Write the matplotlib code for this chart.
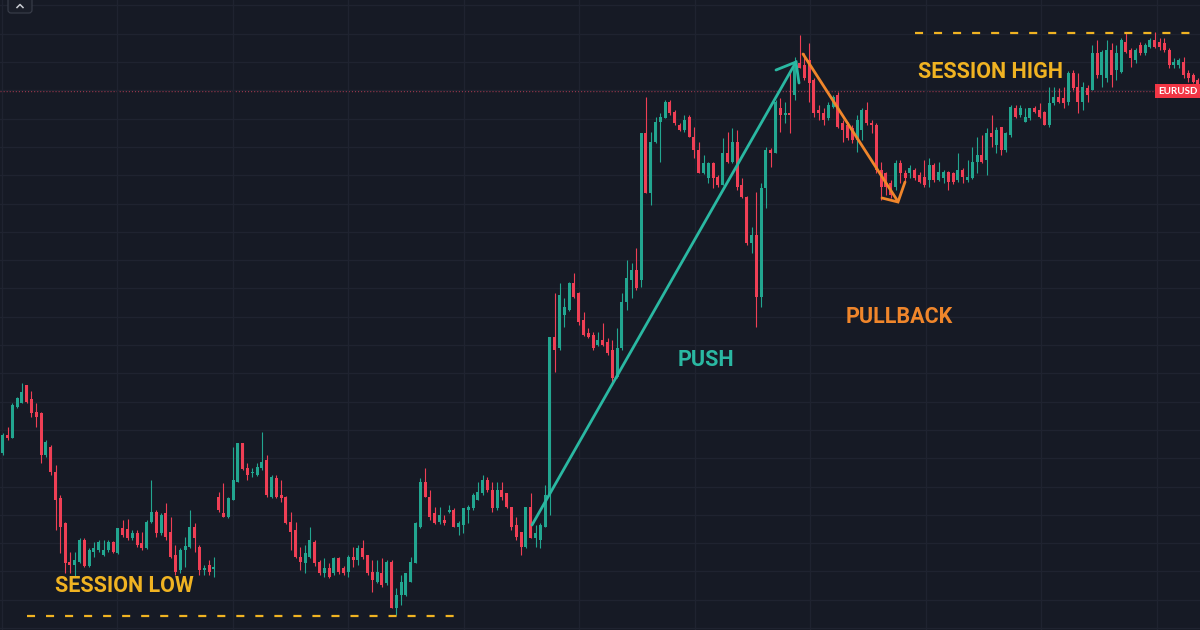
import numpy as np
import matplotlib
matplotlib.use("Agg")
import matplotlib.pyplot as plt
from matplotlib.patches import Rectangle, FancyBboxPatch

# ---- Candle data (EURUSD) ----
# Levels are in chart units measured downward from the top edge
# (no price scale is visible, so the axis is inverted).
opens = [453, 435, 438, 407, 403, 385, 399, 412, 413, 455,
         447, 472, 498, 523, 562, 565, 562, 540, 566, 552,
         550, 555, 550, 542, 553, 528, 529, 538, 533, 543,
         548, 522, 512, 533, 513, 532, 555, 570, 550, 547,
         527, 547, 570, 565, 569, 497, 513, 517, 500, 482,
         443, 468, 473, 475, 468, 460, 497, 478, 495, 497,
         522, 530, 557, 563, 557, 542, 562, 573, 568, 573,
         558, 568, 572, 557, 560, 548, 555, 572, 582, 573,
         583, 562, 608, 595, 595, 582, 563, 527, 482, 497,
         513, 522, 520, 512, 510, 527, 525, 510, 508, 500,
         493, 480, 490, 508, 490, 493, 507, 525, 532, 547,
         507, 538, 540, 527, 495, 337, 348, 315, 310, 283,
         293, 320, 333, 335, 345, 340, 342, 350, 377, 348,
         302, 280, 270, 280, 133, 193, 142, 122, 118, 102,
         112, 125, 130, 117, 137, 150, 173, 178, 163, 177,
         185, 153, 162, 142, 185, 197, 243, 235, 297, 188,
         150, 153, 108, 115, 113, 95, 63, 65, 60, 80,
         110, 113, 118, 107, 95, 123, 125, 128, 140, 130,
         110, 123, 125, 170, 173, 183, 187, 163, 173, 173,
         170, 175, 177, 180, 165, 180, 178, 172, 173, 180,
         170, 180, 178, 162, 155, 160, 133, 145, 127, 150,
         135, 108, 115, 122, 118, 108, 110, 112, 125, 103,
         97, 98, 102, 73, 87, 102, 88, 90, 53, 75,
         78, 50, 70, 72, 42, 50, 60, 45, 53, 47,
         40, 42, 43, 50, 65, 65, 62, 73, 75, 80]
highs = [433, 427, 403, 397, 383, 385, 391, 403, 412, 440,
         445, 465, 495, 522, 552, 552, 538, 538, 548, 542,
         540, 540, 540, 541, 528, 520, 519, 530, 530, 532,
         520, 480, 510, 513, 503, 517, 545, 548, 537, 510,
         523, 545, 565, 560, 557, 492, 483, 497, 447, 443,
         443, 463, 468, 463, 432, 455, 475, 475, 480, 496,
         512, 522, 547, 545, 527, 540, 560, 558, 563, 557,
         557, 566, 555, 547, 545, 540, 555, 560, 560, 558,
         560, 560, 588, 575, 573, 557, 522, 478, 468, 490,
         507, 507, 515, 505, 508, 521, 508, 505, 493, 482,
         475, 477, 482, 482, 482, 493, 507, 517, 532, 507,
         493, 525, 523, 485, 337, 293, 283, 298, 282, 273,
         292, 312, 328, 332, 332, 323, 338, 340, 328, 293,
         260, 263, 248, 133, 97, 132, 117, 113, 100, 100,
         110, 123, 115, 115, 127, 142, 155, 162, 162, 175,
         138, 132, 128, 130, 178, 196, 227, 192, 183, 147,
         148, 100, 98, 102, 70, 57, 35, 53, 43, 78,
         105, 108, 102, 95, 92, 120, 122, 125, 115, 108,
         102, 120, 123, 162, 172, 180, 160, 160, 170, 165,
         168, 172, 160, 158, 163, 162, 170, 171, 172, 153,
         168, 160, 147, 137, 135, 128, 115, 127, 127, 132,
         105, 105, 105, 108, 108, 106, 103, 111, 87, 87,
         88, 87, 71, 70, 73, 82, 85, 45, 40, 50,
         40, 43, 45, 38, 33, 48, 48, 42, 43, 38,
         32, 38, 38, 48, 58, 58, 57, 70, 73, 78]
lows = [455, 440, 438, 408, 403, 403, 417, 427, 463, 457,
        475, 530, 553, 573, 573, 577, 563, 567, 567, 557,
        552, 556, 552, 553, 554, 537, 540, 540, 547, 550,
        549, 523, 537, 535, 540, 558, 575, 573, 567, 548,
        552, 575, 575, 575, 577, 512, 517, 518, 500, 482,
        470, 480, 477, 476, 470, 497, 498, 498, 502, 524,
        550, 558, 570, 573, 558, 566, 575, 577, 578, 575,
        574, 575, 577, 567, 565, 559, 575, 592, 583, 587,
        585, 608, 615, 605, 596, 582, 563, 528, 497, 520,
        524, 524, 525, 513, 527, 535, 533, 523, 510, 500,
        495, 492, 512, 510, 500, 508, 530, 540, 555, 548,
        538, 547, 548, 527, 515, 372, 350, 327, 311, 298,
        325, 336, 338, 350, 346, 346, 355, 385, 378, 350,
        310, 298, 290, 287, 193, 205, 143, 162, 118, 115,
        125, 131, 132, 137, 158, 173, 174, 183, 188, 187,
        185, 163, 163, 190, 198, 245, 253, 327, 307, 208,
        167, 153, 132, 123, 133, 100, 68, 80, 102, 117,
        120, 125, 120, 108, 128, 142, 140, 143, 152, 140,
        125, 133, 173, 200, 195, 198, 190, 183, 182, 178,
        180, 183, 187, 187, 182, 181, 183, 190, 184, 182,
        183, 182, 179, 173, 163, 175, 147, 153, 155, 152,
        137, 118, 117, 122, 120, 113, 118, 125, 127, 105,
        103, 108, 105, 90, 113, 110, 102, 90, 78, 87,
        82, 87, 80, 73, 53, 67, 63, 55, 55, 48,
        48, 50, 52, 68, 68, 68, 78, 82, 83, 86]
closes = [435, 438, 405, 398, 392, 402, 413, 417, 455, 442,
          472, 500, 527, 563, 565, 560, 540, 566, 550, 548,
          542, 550, 542, 552, 528, 535, 538, 533, 545, 548,
          522, 512, 533, 515, 537, 557, 572, 550, 546, 527,
          538, 570, 568, 572, 567, 510, 517, 498, 480, 443,
          469, 475, 472, 467, 462, 495, 477, 497, 498, 523,
          532, 557, 562, 553, 540, 563, 573, 568, 577, 558,
          572, 573, 557, 560, 548, 557, 573, 580, 572, 585,
          562, 608, 595, 582, 573, 562, 523, 482, 497, 517,
          523, 515, 523, 510, 527, 523, 508, 507, 495, 492,
          480, 490, 508, 490, 497, 507, 527, 537, 547, 507,
          538, 533, 525, 495, 337, 350, 295, 307, 283, 297,
          322, 335, 337, 348, 340, 345, 353, 378, 348, 302,
          278, 270, 288, 133, 193, 142, 122, 117, 102, 113,
          123, 130, 120, 137, 150, 173, 163, 163, 178, 185,
          153, 162, 142, 187, 197, 243, 235, 297, 188, 150,
          153, 102, 115, 113, 115, 67, 68, 78, 83, 113,
          113, 120, 105, 97, 127, 130, 138, 140, 120, 110,
          123, 125, 170, 187, 187, 195, 163, 173, 178, 168,
          178, 182, 185, 165, 180, 172, 172, 182, 182, 170,
          177, 177, 162, 155, 162, 133, 137, 130, 150, 133,
          107, 117, 108, 117, 108, 112, 117, 125, 103, 97,
          102, 103, 73, 88, 102, 87, 95, 53, 75, 52,
          50, 75, 53, 40, 52, 58, 50, 53, 45, 40,
          47, 47, 50, 65, 62, 60, 75, 78, 82, 84]

symbol = "EURUSD"
last_price_level = 91
label_session_low = "SESSION LOW"
label_session_high = "SESSION HIGH"
label_push = "PUSH"
label_pullback = "PULLBACK"

# ---- style ----
BG = '#161a25'
GRID = '#1f2330'
UP = '#22a690'
DOWN = '#ef3f55'
GOLD = '#f0b322'
TEAL = '#2ab8a2'
ORANGE = '#f0862b'
plt.rcParams['lines.scale_dashes'] = False

W, H, DPI = 1200, 630, 100
fig = plt.figure(figsize=(W / DPI, H / DPI), dpi=DPI, facecolor=BG)
ax = fig.add_axes([0, 0, 1, 1])
ax.set_facecolor(BG)

n = len(opens)
x = np.arange(n)
step = 4.8                      # pixels per candle
x0 = -2.7 / step
ax.set_xlim(x0, x0 + W / step)
ax.set_ylim(H, 0)

ax.set_xticks(np.arange(-0.15, n + 2, 115.5 / step))
ax.set_yticks(np.arange(5.4, H, 28.3))
ax.grid(True, color=GRID, lw=0.9, zorder=0)
ax.tick_params(length=0, labelbottom=False, labelleft=False)
for s in ax.spines.values():
    s.set_visible(False)

o = np.array(opens, float)
c = np.array(closes, float)
hi = np.array(highs, float)
lo = np.array(lows, float)
up = c <= o
cols = np.where(up, UP, DOWN)
ax.vlines(x, hi, lo, colors=cols, lw=0.8, zorder=2)
body_top = np.minimum(o, c)
body_h = np.maximum(np.abs(o - c), 1.2)
ax.bar(x, body_h, bottom=body_top, width=0.62, color=cols, linewidth=0, zorder=3)

# last price dotted line
ax.axhline(last_price_level, xmin=0, xmax=1155 / W, color='#c8425a', lw=1.0,
           ls=(0, (0.8, 1.4)), alpha=0.8, zorder=1)

# ---- overlay in pixel coordinates for drawings ----
ov = fig.add_axes([0, 0, 1, 1], facecolor='none')
ov.set_xlim(0, W)
ov.set_ylim(H, 0)
ov.axis('off')

# session lines
ov.plot([27, 460], [616, 616], color=GOLD, lw=1.6, dashes=(5.8, 7.9))
ov.plot([915, 1190], [33, 33], color=GOLD, lw=1.6, dashes=(5.8, 7.9))

# push arrow
ov.plot([532, 796], [525, 62], color=TEAL, lw=2.0, solid_capstyle='round')
ov.plot([776, 796, 799], [70, 62, 83], color=TEAL, lw=2.0,
        solid_capstyle='round', solid_joinstyle='miter')
# pullback arrow
ov.plot([803, 897], [54, 200], color=ORANGE, lw=2.0, solid_capstyle='round')
ov.plot([882, 898, 905], [198, 202, 182], color=ORANGE, lw=2.0,
        solid_capstyle='round', solid_joinstyle='miter')

font = dict(family=['Roboto', 'DejaVu Sans'], weight='bold', size=15.5)
ov.text(55, 592, label_session_low, color=GOLD, ha='left', va='baseline', **font)
ov.text(918, 78, label_session_high, color=GOLD, ha='left', va='baseline', **font)
ov.text(678, 366, label_push, color=TEAL, ha='left', va='baseline', **font)
ov.text(846, 323, label_pullback, color=ORANGE, ha='left', va='baseline', **font)

# symbol label on right edge
ov.add_patch(Rectangle((1155, 84), 45, 13.5, facecolor='#f23645', edgecolor='none', zorder=5))
ov.text(1177.5, 91.2, symbol, color='white', ha='center', va='center',
        fontsize=7, fontweight='bold', family=['Lato', 'DejaVu Sans'], zorder=6)

# small collapse button top-left
ov.add_patch(FancyBboxPatch((8, -5), 24, 18, boxstyle='round,pad=0,rounding_size=3',
                            facecolor='#1a1e29', edgecolor='#3a3f4b', lw=0.8, zorder=5))
ov.plot([17, 20, 23], [7.5, 4.5, 7.5], color='#c9ccd3', lw=1.1, zorder=6)

fig.savefig('out.png', dpi=DPI, facecolor=BG)
